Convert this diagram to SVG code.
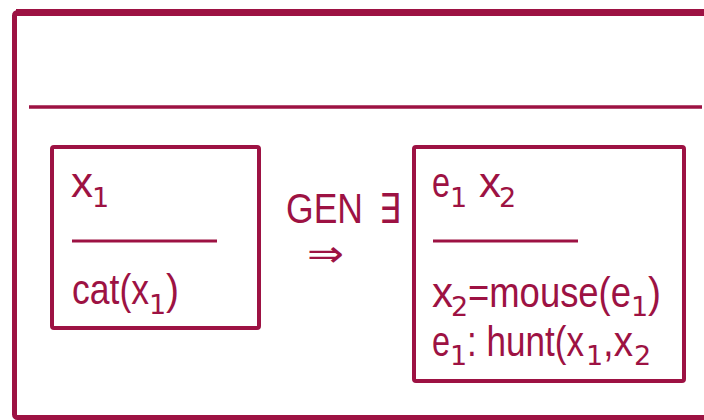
<svg xmlns="http://www.w3.org/2000/svg" width="704" height="420" viewBox="0 0 704 420">
<style>
.ln{stroke:#9d1243;fill:none}
.t{font-family:"Liberation Sans",Arial,sans-serif;font-size:42px;fill:#9d1243}
.s{font-family:"DejaVu Sans",sans-serif;font-size:27px;fill:#9d1243}
.m{font-family:"DejaVu Sans",sans-serif;fill:#9d1243}
</style>
<rect width="704" height="420" fill="#fff"/>
<g id="frame">
<rect class="ln" x="14.5" y="12.5" width="720" height="405" rx="3" stroke-width="5"/>
<line class="ln" x1="16" y1="12.5" x2="704" y2="12.5" stroke-width="7"/>
<line class="ln" x1="29" y1="107" x2="702" y2="107" stroke-width="3.5"/>
</g>
<g id="drs-left">
<rect class="ln" x="52" y="147" width="207" height="181" rx="2" stroke-width="4"/>
<line class="ln" x1="72" y1="241" x2="217" y2="241" stroke-width="3"/>
<text class="t" x="71" y="197" textLength="22" lengthAdjust="spacingAndGlyphs">x</text>
<text class="s" x="92" y="207">1</text>
<text class="t" x="72" y="304" textLength="77" lengthAdjust="spacingAndGlyphs">cat(x</text>
<text class="s" x="149" y="314">1</text>
<text class="t" x="166" y="304" textLength="13" lengthAdjust="spacingAndGlyphs">)</text>
</g>
<g id="gen-label">
<text class="t" x="286" y="223" textLength="77" lengthAdjust="spacingAndGlyphs">GEN</text>
<text class="m" x="379" y="223" font-size="41" textLength="22" lengthAdjust="spacingAndGlyphs">∃</text>
</g>
<g id="connectors">
<text class="m" x="307" y="266" font-size="36" textLength="37" lengthAdjust="spacingAndGlyphs">⇒</text>
</g>
<g id="drs-right">
<rect class="ln" x="414" y="147" width="270" height="234" rx="2" stroke-width="4"/>
<line class="ln" x1="433" y1="241" x2="578" y2="241" stroke-width="3"/>
<text class="t" x="432" y="197" textLength="18" lengthAdjust="spacingAndGlyphs">e</text>
<text class="s" x="450" y="207">1</text>
<text class="t" x="479" y="197" textLength="22" lengthAdjust="spacingAndGlyphs">x</text>
<text class="s" x="499" y="207">2</text>
<text class="t" x="432" y="307" textLength="21" lengthAdjust="spacingAndGlyphs">x</text>
<text class="s" x="451" y="316">2</text>
<text class="t" x="468" y="307" textLength="163" lengthAdjust="spacingAndGlyphs">=mouse(e</text>
<text class="s" x="631" y="316">1</text>
<text class="t" x="648" y="307" textLength="13" lengthAdjust="spacingAndGlyphs">)</text>
<text class="t" x="432" y="356" textLength="18" lengthAdjust="spacingAndGlyphs">e</text>
<text class="s" x="450" y="365">1</text>
<text class="t" x="467" y="356" textLength="117" lengthAdjust="spacingAndGlyphs">: hunt(x</text>
<text class="s" x="586" y="365">1</text>
<text class="t" x="603" y="356" textLength="30" lengthAdjust="spacingAndGlyphs">,x</text>
<text class="s" x="634" y="365">2</text>
</g>
</svg>
